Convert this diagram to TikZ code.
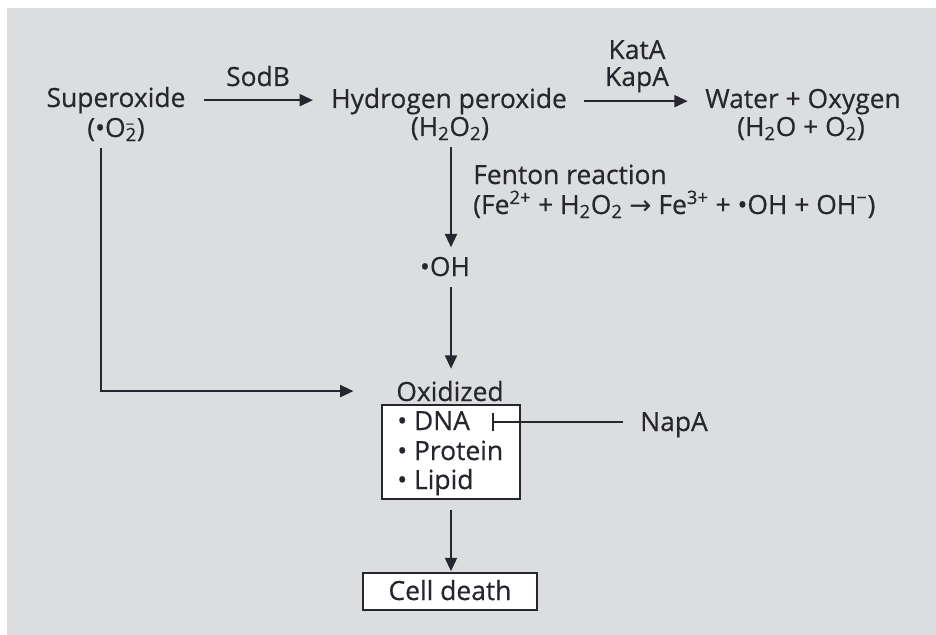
\documentclass[tikz,border=0pt]{standalone}
\usepackage{fontspec}
\setmainfont{Open Sans}[BoldFont=Open Sans, BoldFeatures={FakeBold=0.5}]
\newfontfamily\symf{DejaVu Sans}
\usetikzlibrary{arrows.meta}
\definecolor{bg}{HTML}{DCDDDF}
\definecolor{ink}{HTML}{26262E}
\newcommand\supsubx[2]{\makebox[0pt][l]{\raisebox{0.55ex}{\fontsize{11}{11}\selectfont #1}}\textsubscript{#2}}
\begin{document}
\begin{tikzpicture}[x=0.75pt,y=-0.75pt,
  txt/.style={inner sep=0pt, text=ink, font=\fontsize{19.8}{23}\selectfont\bfseries, anchor=base},
  arr/.style={draw=ink, line width=1.5pt, -{Triangle[length=10pt,width=9pt]}},
  inh/.style={draw=ink, line width=1.2pt, -{Bar[width=14pt]}},
  boxs/.style={draw=ink, line width=1.5pt, fill=white, inner sep=0pt}]
\useasboundingbox (0,0) rectangle (936,635);
\fill[bg] (7,8) rectangle (936,635);
% top row
\node[txt] (sup) at (116,107) {Superoxide};
\node[txt] (supf) at (116,137) {(•O\supsubx{−}{2})};
\node[txt] (sodb) at (258,86) {SodB};
\node[txt] (hp) at (449,108) {Hydrogen peroxide};
\node[txt] (hpf) at (450,136) {(H\textsubscript{2}O\textsubscript{2})};
\node[txt] (kata) at (637,59) {KatA};
\node[txt] (kapa) at (637,86) {KapA};
\node[txt] (wo) at (803,108) {Water + Oxygen};
\node[txt] (wof) at (801,136) {(H\textsubscript{2}O + O\textsubscript{2})};
% Fenton
\node[txt, anchor=base west] (fen) at (473,184) {Fenton reaction};
\node[txt, anchor=base west] (feq) at (473,214) {(Fe\textsuperscript{2+} + H\textsubscript{2}O\textsubscript{2} {\symf\mdseries →} Fe\textsuperscript{3+} + •OH + OH\textsuperscript{−})};
\node[txt] (oh) at (445,276) {•OH};
% oxidized
\node[txt] (oxid) at (450,401) {Oxidized};
\node[boxs, minimum width=103.5pt, minimum height=70pt] (box) at (451,452) {};
\node[txt, anchor=base west] (dna) at (397,430) {• DNA};
\node[txt, anchor=base west] (prot) at (397,460) {• Protein};
\node[txt, anchor=base west] (lip) at (397,489) {• Lipid};
\node[txt, anchor=base west] (napa) at (640,431) {NapA};
\coordinate (dnab) at (492,422);
\node[boxs, minimum width=130.5pt, minimum height=28pt] (cd) at (450,591.5) {};
\node[txt] (cdt) at (450,600) {Cell death};
\coordinate (sl) at (101,148);
% connectors
\draw[arr, shorten <=13.5pt, shorten >=13.5pt] (sup.east) -- (sup.east -| hp.west);
\draw[arr, shorten <=13pt, shorten >=13pt] (hp.east) -- (hp.east -| wo.west);
\draw[arr, shorten <=5pt, shorten >=7pt] (hpf.south -| box.north) -- (oh.north -| box.north);
\draw[arr, shorten <=8pt, shorten >=9pt] (oh.south -| box.north) -- (oxid.north -| box.north);
\draw[arr, shorten >=32pt] (sl) |- (oxid.west);
\draw[inh, shorten <=12.75pt] (napa.west |- dnab) -- (dnab);
\draw[arr, shorten <=7.5pt, shorten >=0.5pt] (box.south) -- (box.south |- cd.north);
\end{tikzpicture}
\end{document}
